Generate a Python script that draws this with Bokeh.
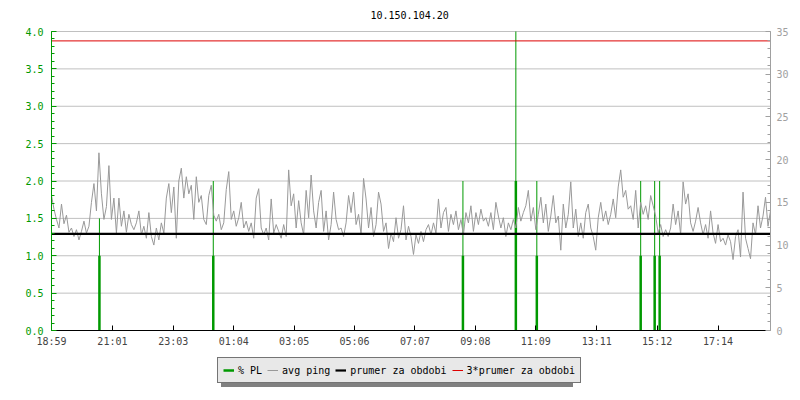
from bokeh.plotting import figure
from bokeh.models import Range1d, LinearAxis, FixedTicker, Legend, LegendItem, ColumnDataSource
from bokeh.embed import file_html
from bokeh.resources import INLINE

# ---------------- data ----------------
title_text = "10.150.104.20"
start_label = "18:59"
x_tick_labels = ["18:59", "21:01", "23:03", "01:04", "03:05", "05:06",
                 "07:07", "09:08", "11:09", "13:11", "15:12", "17:14"]
period_minutes = 1440
sample_step_min = 5

# avg ping [ms], one value per 5 minutes
avg_ping_ms = [
    15.8, 14.2, 13.0, 12.0, 14.8, 12.5, 13.5, 11.5, 12.0, 11.0, 11.8, 10.6, 11.6, 12.8, 11.4, 12.2,
    15.0, 17.2, 14.0, 20.8, 16.0, 13.0, 14.5, 19.3, 13.0, 15.5, 11.4, 15.5, 12.2, 14.0, 11.5, 13.6,
    12.4, 11.8, 12.6, 14.0, 11.2, 12.2, 10.8, 13.8, 11.0, 10.0, 12.0, 10.6, 12.6, 11.4, 15.5, 17.2,
    13.8, 16.8, 10.8, 17.5, 19.0, 15.5, 18.0, 16.0, 17.0, 13.0,
    18.0, 15.0, 15.8, 13.0, 12.4, 15.8, 17.0, 13.5, 12.8, 13.6, 11.8, 12.6, 16.5, 18.6, 13.0, 14.0,
    12.2, 13.2, 15.0, 12.0, 12.8, 11.6, 12.6, 10.8, 15.5, 16.6, 12.0, 11.2, 12.0, 10.6, 15.4, 11.4,
    12.4, 11.6, 10.8, 12.4, 11.0, 18.8, 14.6, 16.0, 12.0, 15.2, 12.6, 11.2, 16.4, 13.2, 18.2, 14.0,
    12.0, 15.0, 16.4, 11.6, 14.0, 10.6, 12.4, 16.2, 13.0, 11.8,
    12.0, 11.0, 12.6, 15.8, 13.8, 16.2, 12.4, 13.6, 11.2, 17.8, 15.4, 12.0, 14.4, 11.0, 12.4, 16.2,
    14.8, 11.6, 12.6, 9.6, 11.4, 10.4, 13.2, 10.8, 11.8, 14.6, 10.6, 12.2, 11.0, 8.9, 11.2, 10.2,
    11.6, 10.4, 11.8, 12.4, 11.2, 12.6, 11.4, 15.4, 12.0, 13.8, 14.4, 11.6, 13.6, 12.4, 14.0, 11.8,
    13.0, 11.2, 13.8, 12.6, 14.6, 11.6, 13.8, 12.4, 14.2, 12.8,
    13.2, 12.2, 13.8, 11.8, 15.0, 13.4, 12.0, 13.2, 11.0, 12.6, 11.8, 13.0, 12.0, 14.4, 12.8, 13.8,
    14.6, 16.4, 12.8, 14.4, 11.8, 13.6, 15.6, 12.6, 14.8, 11.6, 13.4, 15.8, 12.6, 13.4, 9.4, 14.8,
    12.0, 13.6, 17.4, 12.0, 14.2, 11.0, 12.6, 10.8, 13.8, 14.8, 12.0, 11.0, 9.4, 13.2, 15.0, 12.8,
    14.0, 12.4, 13.6, 15.4, 13.2, 16.8, 18.8, 15.6, 16.4, 14.2,
    14.6, 13.0, 16.4, 12.0, 15.0, 13.6, 14.6, 13.0, 15.8, 14.6, 13.4, 11.4, 12.4, 11.0, 11.8, 11.0,
    12.0, 14.8, 12.4, 14.0, 11.2, 17.4, 14.8, 16.0, 12.6, 11.6, 12.8, 14.4, 12.6, 11.2, 12.4, 10.8,
    14.0, 11.4, 10.2, 12.4, 10.4, 10.8, 10.0, 11.2, 10.4, 8.3, 11.0, 11.8, 8.6, 16.2, 10.8, 9.6,
    8.4, 12.6, 11.2, 14.6, 12.0, 13.4, 15.6, 12.2, 14.0,
]

# packet loss events: minutes after start, peak value and sustained value [%]
pl_minutes = [96, 324, 824, 930, 972, 1180, 1208, 1218]
pl_peak = [1.5, 2.0, 2.0, 4.0, 2.0, 2.0, 2.0, 2.0]
pl_level = [1.0, 1.0, 1.0, 2.0, 1.0, 1.0, 1.0, 1.0]

prumer_ms = 11.3          # period average
prumer_factor = 3

left_ticks = [0.0, 0.5, 1.0, 1.5, 2.0, 2.5, 3.0, 3.5, 4.0]
right_ticks = [0, 5, 10, 15, 20, 25, 30, 35]

legend_labels = ["% PL", "avg ping", "prumer za obdobi", "3*prumer za obdobi"]

# ---------------- styling / layout ----------------
FONT = "DejaVu Sans Mono"
GREEN = "#009900"
GREY = "#999999"
GRID = "#c0c0c0"
RED = "#dd0000"

W, H = 792, 392
FRAME_TOP, PLOT_TOP, PLOT_ZERO, FRAME_BOTTOM = 22, 31, 330, 388   # canvas y positions
FRAME_LEFT, PLOT_LEFT, PLOT_RIGHT = 12, 51, 770                   # canvas x positions
TITLE_LEFT = 370
L_MAX, R_MAX = 4.0, 35.0
px_per_unit = (PLOT_ZERO - PLOT_TOP) / L_MAX
l_min = -(FRAME_BOTTOM - PLOT_ZERO) / px_per_unit
l_top = L_MAX + (PLOT_TOP - FRAME_TOP) / px_per_unit
r_scale = R_MAX / L_MAX
px_per_min = (PLOT_RIGHT - PLOT_LEFT) / period_minutes
x_min = -(PLOT_LEFT - FRAME_LEFT) / px_per_min


def minutes_after_start(lbl):
    h, m = map(int, lbl.split(":"))
    sh, sm = map(int, start_label.split(":"))
    d = (h * 60 + m) - (sh * 60 + sm)
    return d + 1440 if d < 0 else d


x_tick_pos = [minutes_after_start(l) for l in x_tick_labels]
ping_x = [i * sample_step_min for i in range(len(avg_ping_ms))]

p = figure(width=W, height=H, output_backend="svg", toolbar_location=None,
           x_range=Range1d(x_min, period_minutes), y_range=Range1d(l_min, l_top),
           min_border_left=FRAME_LEFT, min_border_right=W - PLOT_RIGHT,
           min_border_top=FRAME_TOP, min_border_bottom=H - FRAME_BOTTOM)
p.extra_y_ranges = {"ms": Range1d(l_min * r_scale, l_top * r_scale)}
p.outline_line_color = None
p.background_fill_color = "white"

p.title.text = title_text
p.title.align = "left"
p.title.offset = TITLE_LEFT - FRAME_LEFT
p.title.text_font = FONT
p.title.text_font_size = "10px"
p.title.text_font_style = "normal"
p.title.text_color = "black"
p.title.standoff = 8

# x axis, drawn at the 0 line
xa = p.xaxis[0]
xa.fixed_location = 0
xa.bounds = (0, period_minutes)
xa.ticker = FixedTicker(ticks=x_tick_pos)
xa.major_label_overrides = {pos: lbl for pos, lbl in zip(x_tick_pos, x_tick_labels)}
xa.major_tick_in = 5
xa.major_tick_out = 0
xa.minor_tick_line_color = None
xa.axis_line_color = "black"
xa.major_tick_line_color = "black"
xa.major_label_text_font = FONT
xa.major_label_text_font_size = "10px"
xa.major_label_standoff = 5

# left axis, drawn at t = 0
ya = p.yaxis[0]
ya.fixed_location = 0
ya.bounds = (0, L_MAX)
ya.ticker = FixedTicker(ticks=left_ticks, minor_ticks=[i / 10 for i in range(41)])
ya.major_label_overrides = {t: f"{t:.1f}" for t in left_ticks}
ya.axis_line_color = GREEN
ya.major_tick_line_color = GREEN
ya.minor_tick_line_color = GREEN
ya.major_tick_in = 5
ya.major_tick_out = 0
ya.minor_tick_in = 3
ya.minor_tick_out = 0
ya.major_label_text_color = GREEN
ya.major_label_text_font = FONT
ya.major_label_text_font_size = "10px"
ya.major_label_standoff = 8

# right axis
ra = LinearAxis(y_range_name="ms", bounds=(0, R_MAX),
                ticker=FixedTicker(ticks=right_ticks, minor_ticks=list(range(36))))
ra.axis_line_color = "#a0a0a0"
ra.major_tick_line_color = "#a0a0a0"
ra.minor_tick_line_color = "#a0a0a0"
ra.major_tick_in = 5
ra.major_tick_out = 0
ra.minor_tick_in = 3
ra.minor_tick_out = 0
ra.major_label_text_color = "#a0a0a0"
ra.major_label_text_font = FONT
ra.major_label_text_font_size = "10px"
ra.major_label_standoff = 6
p.add_layout(ra, "right")

# horizontal grid lines only across the time span
p.xgrid.visible = False
p.ygrid.visible = False
p.segment(x0=[0] * len(left_ticks), y0=left_ticks, x1=[period_minutes] * len(left_ticks), y1=left_ticks,
          line_color=GRID, line_width=1, level="underlay")

# packet loss
pl_src = ColumnDataSource(dict(x=pl_minutes, peak=pl_peak, level=pl_level, zero=[0] * len(pl_minutes)))
r_pl_thin = p.segment(x0="x", y0="zero", x1="x", y1="peak", source=pl_src, line_color=GREEN, line_width=1)
r_pl = p.segment(x0="x", y0="zero", x1="x", y1="level", source=pl_src, line_color=GREEN, line_width=2.5)

# avg ping
r_ping = p.line(ping_x, avg_ping_ms, y_range_name="ms", line_color=GREY, line_width=1)

# averages
r_avg = p.line([0, period_minutes], [prumer_ms, prumer_ms], y_range_name="ms", line_color="black", line_width=2.2)
r_avg3 = p.line([0, period_minutes], [prumer_ms * prumer_factor] * 2, y_range_name="ms", line_color=RED, line_width=1)

renderers = [r_pl, r_ping, r_avg, r_avg3]


def make_legend(loc, bg, border, text_alpha):
    its = [LegendItem(label=l, renderers=[r]) for l, r in zip(legend_labels, renderers)]
    return Legend(items=its, location=loc, orientation="horizontal",
                  background_fill_color=bg, background_fill_alpha=1.0,
                  border_line_color=border, border_line_width=1,
                  label_text_font=FONT, label_text_font_size="10px", label_text_alpha=text_alpha,
                  label_text_color="black",
                  glyph_width=11, glyph_height=14, label_height=14, label_standoff=4,
                  spacing=5, padding=5, margin=0)


LEG_X, LEG_BOTTOM, SHADOW = 217, 383, 4
p.add_layout(make_legend((LEG_X - FRAME_LEFT + SHADOW, FRAME_BOTTOM - LEG_BOTTOM - SHADOW),
                         "#808080", None, 0.0), "center")
p.add_layout(make_legend((LEG_X - FRAME_LEFT, FRAME_BOTTOM - LEG_BOTTOM),
                         "#e8e8e8", "black", 1.0), "center")

open("out.html", "w").write(file_html(p, INLINE))
